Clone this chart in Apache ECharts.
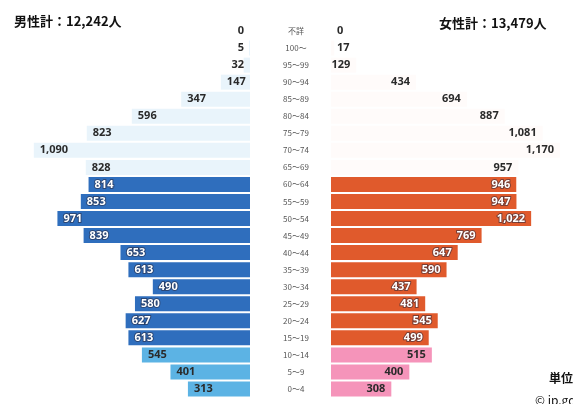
<!DOCTYPE html>
<html>
<head>
<meta charset="utf-8">
<script src="https://cdn.jsdelivr.net/npm/echarts@6/dist/echarts.min.js"></script>
<style>
  html, body { margin: 0; padding: 0; background: #fff; }
  #chart { width: 573px; height: 404px; }
</style>
</head>
<body>
<div id="chart"></div>
<script>
// Age groups, youngest first (the category axis draws the first item at the bottom)
const ageGroups = ['0～4', '5～9', '10～14', '15～19', '20～24', '25～29', '30～34', '35～39',
  '40～44', '45～49', '50～54', '55～59', '60～64', '65～69', '70～74', '75～79',
  '80～84', '85～89', '90～94', '95～99', '100～', '不詳'];
const male = [313, 401, 545, 613, 627, 580, 490, 613, 653, 839, 971, 853, 814, 828,
  1090, 823, 596, 347, 147, 32, 5, 0];
const female = [308, 400, 515, 499, 545, 481, 437, 590, 647, 769, 1022, 947, 946, 957,
  1170, 1081, 887, 694, 434, 129, 17, 0];
const maleTotal = '男性計：12,242人';
const femaleTotal = '女性計：13,479人';

// Bands: 0-14 (young), 15-64 (working age), 65+ (elderly)
function band(i) { return i < 3 ? 'young' : (i < 13 ? 'work' : 'old'); }
const maleColors = { young: '#5cb3e4', work: '#2f6ebd', old: '#e9f4fb' };
const femaleColors = { young: '#f594ba', work: '#e05a2c', old: '#fffbfa' };

const fmt = v => v.toLocaleString('en-US');
const lightLabel = { color: '#ffffff', textBorderColor: 'rgba(40,40,60,0.55)', textBorderWidth: 2 };
const darkLabel = { color: '#2a2a2a', textBorderWidth: 0 };

function items(values, colors, side) {
  return values.map((v, i) => {
    const b = band(i);
    const small = v < 100;
    let pos;
    if (side === 'm') pos = small ? 'insideRight' : 'insideLeft';
    else pos = small ? 'insideLeft' : 'insideRight';
    return {
      value: v,
      itemStyle: { color: colors[b] },
      label: Object.assign({ position: pos }, b === 'work' ? lightLabel : darkLabel)
    };
  });
}

const chart = echarts.init(document.getElementById('chart'), null, { renderer: 'canvas' });
const labelBase = {
  show: true,
  distance: 6,
  fontFamily: 'Noto Sans, sans-serif',
  fontSize: 11,
  fontWeight: 'bold',
  formatter: p => fmt(p.value)
};

chart.setOption({
  animation: false,
  backgroundColor: '#ffffff',
  title: [
    { text: maleTotal, left: 9, top: 10,
      textStyle: { fontFamily: 'Noto Sans CJK JP', fontSize: 13, fontWeight: 'bold', color: '#111' } },
    { text: femaleTotal, left: 434, top: 12,
      textStyle: { fontFamily: 'Noto Sans CJK JP', fontSize: 13, fontWeight: 'bold', color: '#111' } },
    { text: '単位：人', left: 544, top: 367,
      textStyle: { fontFamily: 'Noto Sans CJK JP', fontSize: 12, fontWeight: 'bold', color: '#111' } },
    { text: '© jp.gdfreak.com', left: 530, top: 389,
      textStyle: { fontFamily: 'Noto Sans CJK JP', fontSize: 12, fontWeight: 'normal', color: '#111' } }
  ],
  grid: [
    { left: 12, width: 238, top: 22.5, height: 375 },
    { left: 331, width: 235, top: 22.5, height: 375 }
  ],
  xAxis: [
    { gridIndex: 0, type: 'value', inverse: true, min: 0, max: 1200, show: false },
    { gridIndex: 1, type: 'value', min: 0, max: 1200, show: false }
  ],
  yAxis: [
    { gridIndex: 0, type: 'category', data: ageGroups, position: 'right',
      axisLine: { show: false }, axisTick: { show: false }, splitLine: { show: false },
      axisLabel: { margin: 46, align: 'center', fontSize: 8, fontFamily: 'Noto Sans CJK JP',
        color: '#555' } },
    { gridIndex: 1, type: 'category', data: ageGroups, show: false }
  ],
  series: [
    { type: 'bar', xAxisIndex: 0, yAxisIndex: 0, barCategoryGap: '12%',
      data: items(male, maleColors, 'm'), label: labelBase },
    { type: 'bar', xAxisIndex: 1, yAxisIndex: 1, barCategoryGap: '12%',
      data: items(female, femaleColors, 'f'), label: labelBase }
  ]
});
</script>
</body>
</html>
